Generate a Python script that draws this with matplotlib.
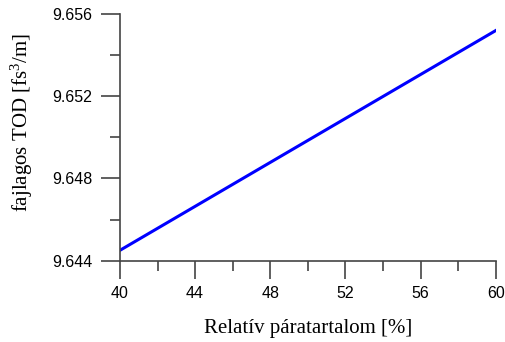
import matplotlib.pyplot as plt
from matplotlib.ticker import MultipleLocator

plt.rcParams['mathtext.fontset'] = 'custom'
plt.rcParams['mathtext.rm'] = 'Liberation Serif'
plt.rcParams['mathtext.it'] = 'Liberation Serif'

rh = [40, 44, 48, 52, 56, 60]
tod = [9.64450, 9.64664, 9.64878, 9.65092, 9.65306, 9.65520]

fig = plt.figure(figsize=(5.06, 3.42), dpi=100)
ax = fig.add_axes([0.237, 0.238, 0.743, 0.721])

ax.plot(rh, tod, color='#0000ff', linewidth=2.2)

ax.set_xlim(40, 60)
ax.set_ylim(9.644, 9.656)
ax.xaxis.set_major_locator(MultipleLocator(4))
ax.xaxis.set_minor_locator(MultipleLocator(2))
ax.yaxis.set_major_locator(MultipleLocator(0.004))
ax.yaxis.set_minor_locator(MultipleLocator(0.002))
ax.yaxis.set_major_formatter(plt.FormatStrFormatter('%.3f'))

for s in ['top', 'right']:
    ax.spines[s].set_visible(False)
for s in ['left', 'bottom']:
    ax.spines[s].set_color('#444444')
    ax.spines[s].set_linewidth(1.2)

ax.tick_params(which='both', colors='#444444', width=1.2)
ax.tick_params(axis='x', which='major', length=13, pad=5)
ax.tick_params(axis='x', which='minor', length=7)
ax.tick_params(axis='y', which='major', length=14, pad=6)
ax.tick_params(axis='y', which='minor', length=7)
for lab in ax.get_xticklabels() + ax.get_yticklabels():
    lab.set_fontfamily('Liberation Sans')
    lab.set_fontsize(11.5)
ax.tick_params(labelcolor='black')
ax.set_xlabel('Relatív páratartalom [%]', family='Liberation Serif', fontsize=15, labelpad=13)
ax.set_ylabel('fajlagos TOD [fs$^3$/m]', family='Liberation Serif', fontsize=15)
ax.yaxis.set_label_coords(-0.226, 0.56)

fig.savefig('out.png', dpi=100)
